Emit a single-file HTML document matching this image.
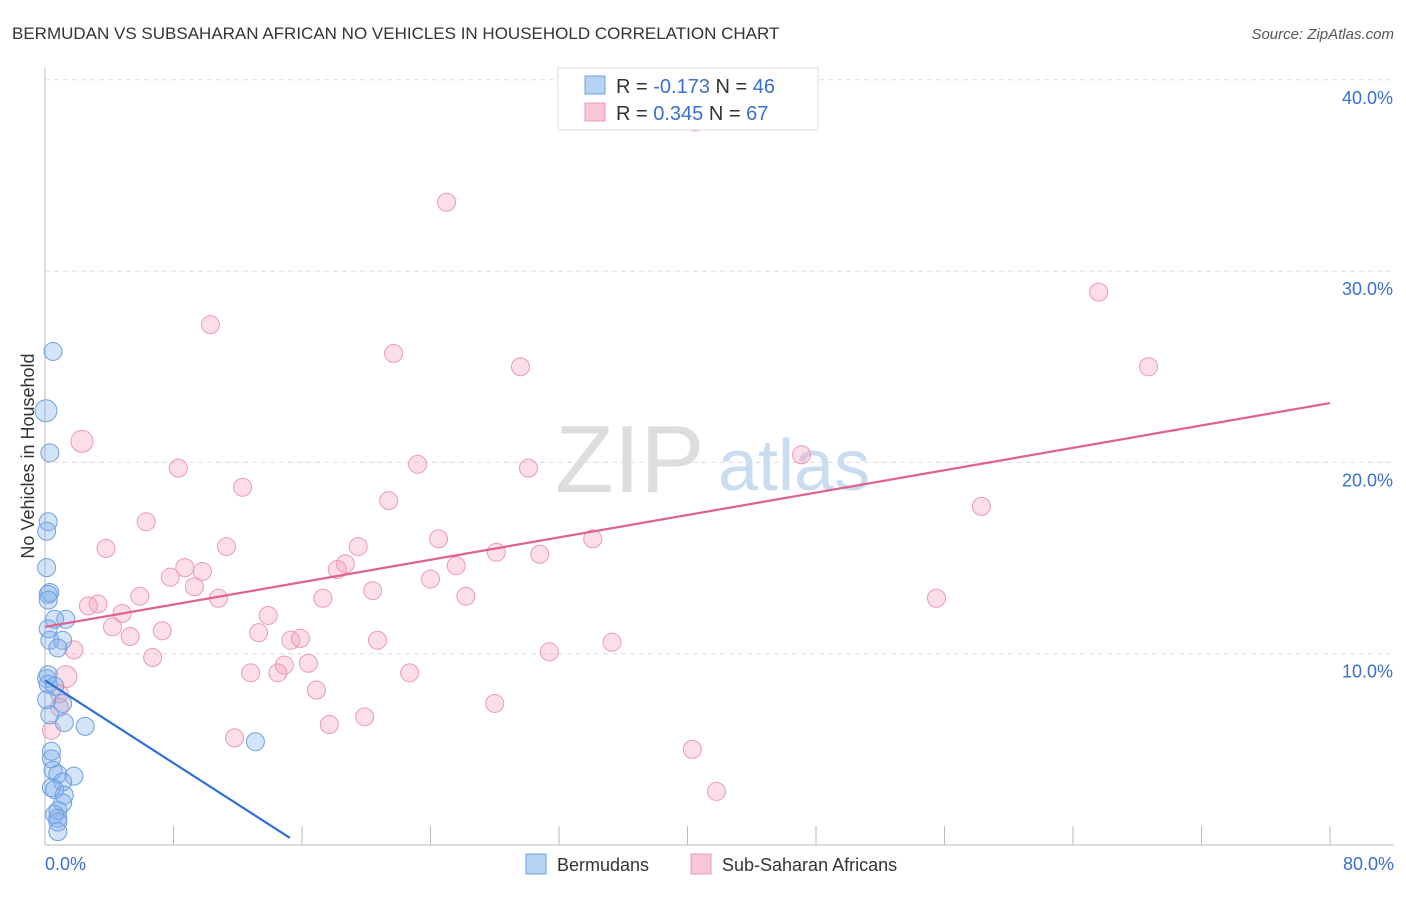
<!DOCTYPE html>
<html><head><meta charset="utf-8"><style>
body{margin:0;background:#fff;font-family:"Liberation Sans",sans-serif}
svg text{font-family:"Liberation Sans",sans-serif}
</style></head><body>
<svg id="c" width="1406" height="892">
<text x="12" y="39" font-size="17" fill="#333">BERMUDAN VS SUBSAHARAN AFRICAN NO VEHICLES IN HOUSEHOLD CORRELATION CHART</text>
<text x="1394" y="39" font-size="15" fill="#555" text-anchor="end" font-style="italic">Source: ZipAtlas.com</text>
<text x="555" y="492" font-size="96" fill="#ddd" font-family="Liberation Serif">ZIP</text>
<text x="718" y="490" font-size="72" fill="#c9dcf0">atlas</text>
<g id="grid"></g><g id="pts"></g><g id="lines"></g>
<text transform="translate(34,456) rotate(-90)" font-size="18" fill="#333" text-anchor="middle">No Vehicles in Household</text>
<g>
<rect x="558" y="68" width="260" height="62" fill="#fff" stroke="#ddd"/>
<rect x="585" y="76" width="20" height="18" fill="#b7d3f4" stroke="#6fa0e0"/>
<rect x="585" y="103" width="20" height="18" fill="#f9c7d6" stroke="#ec9ab4"/>
<text x="616" y="93" font-size="20" fill="#333">R = <tspan fill="#3a6fd0">-0.173</tspan>   N = <tspan fill="#3a6fd0">46</tspan></text>
<text x="616" y="120" font-size="20" fill="#333">R =  <tspan fill="#3a6fd0">0.345</tspan>   N = <tspan fill="#3a6fd0">67</tspan></text>
</g>
<text x="45" y="870" font-size="18" fill="#3a6fd0">0.0%</text>
<text x="1394" y="870" font-size="18" fill="#3a6fd0" text-anchor="end">80.0%</text>
<g>
<rect x="526" y="854" width="20" height="20" fill="#b7d3f4" stroke="#6fa0e0"/>
<text x="557" y="871" font-size="18" fill="#333">Bermudans</text>
<rect x="691" y="854" width="20" height="20" fill="#f9c7d6" stroke="#ec9ab4"/>
<text x="722" y="871" font-size="18" fill="#333">Sub-Saharan Africans</text>
</g>
</svg>
<script>
const yTicks=[10,20,30,40];
const xTicks=[0,8,16,24,32,40,48,56,64,72,80];
const blueX=[0.5,0.06,0.3,0.2,0.1,0.1,0.3,0.2,0.6,1.3,0.2,0.3,1.1,0.8,0.2,0.1,0.2,0.6,1.1,1.2,2.5,13.1,0.4,0.4,0.5,0.8,1.8,1.1,0.4,0.6,1.2,1.1,0.8,0.6,0.8,0.8,0.8,0.2,0.1,0.3];
const blueY=[25.8,22.7,20.5,16.9,16.4,14.5,13.2,13.1,11.8,11.8,11.3,10.7,10.7,10.3,8.9,8.7,8.4,8.3,7.4,6.4,6.2,5.4,4.9,4.5,3.9,3.7,3.6,3.3,3.0,2.9,2.6,2.2,1.8,1.6,1.4,1.2,0.7,12.8,7.6,6.8];
const pinkX=[2.3,40.5,25.0,10.3,21.7,29.6,65.6,68.7,47.1,8.3,23.2,30.1,12.3,21.4,58.3,6.3,3.8,11.3,24.5,34.1,19.5,28.1,30.8,18.7,25.6,18.2,8.7,9.8,7.8,24.0,9.3,26.2,10.8,5.9,20.4,17.3,55.5,2.7,3.3,4.8,4.2,13.9,7.3,13.3,5.3,15.3,15.9,20.7,35.3,1.8,31.4,6.7,16.4,14.9,12.8,14.5,22.7,1.3,16.9,0.9,0.9,28.0,19.9,17.7,0.4,11.8,40.3,41.8];
const pinkY=[21.1,37.8,33.6,27.2,25.7,25.0,28.9,25.0,20.4,19.7,19.9,19.7,18.7,18.0,17.7,16.9,15.5,15.6,16.0,16.0,15.6,15.3,15.2,14.7,14.6,14.4,14.5,14.3,14.0,13.9,13.5,13.0,12.9,13.0,13.3,12.9,12.9,12.5,12.6,12.1,11.4,12.0,11.2,11.1,10.9,10.7,10.8,10.7,10.6,10.2,10.1,9.8,9.5,9.4,9.0,9.0,9.0,8.8,8.1,7.9,7.2,7.4,6.7,6.3,6.0,5.6,5.0,2.8];
const blueTrend=[[0,8.6],[15.25,0.37]];
const pinkTrend=[[0,11.4],[80,23.1]];
const X=v=>45+v/80*1285, Y=v=>845-v*19.13;
const NS="http://www.w3.org/2000/svg";
function mk(t,a,p){const e=document.createElementNS(NS,t);for(const k in a)e.setAttribute(k,a[k]);p.appendChild(e);return e;}
const g=document.getElementById('grid');
const ax=mk('line',{x1:45,y1:68,x2:45,y2:845,stroke:'#bbb'},g);


const bx=mk('line',{x1:45,y1:845,x2:1394,y2:845,stroke:'#bbb'},g);


yTicks.forEach(t=>{
 const l=mk('line',{x1:45,y1:Y(t),x2:1394,y2:Y(t),stroke:'#ddd','stroke-dasharray':'5,4'},g);
 
 
 const tx=mk('text',{x:1393,y:Y(t)+24,'font-size':18,fill:'#3a6fd0','text-anchor':'end'},g);
 tx.textContent=t.toFixed(1)+'%';
 
 
});
xTicks.forEach(t=>{
 const l=mk('line',{x1:X(t),y1:826,x2:X(t),y2:845,stroke:'#bbb'},g);
 
 
});
const p=document.getElementById('pts');
pinkX.forEach((x,i)=>{
 const c=mk('circle',{cx:X(x),cy:Y(pinkY[i]),r:(i==0||i==57)?11:9,fill:'rgba(244,160,185,0.35)',stroke:'#ec9ab4','stroke-width':1},p);
 
 
});
blueX.forEach((x,i)=>{
 const c=mk('circle',{cx:X(x),cy:Y(blueY[i]),r:i==1?11:9,fill:'rgba(130,175,235,0.35)',stroke:'#6fa0e0','stroke-width':1},p);
 
 
});
const L=document.getElementById('lines');
const bl=mk('line',{x1:X(blueTrend[0][0]),y1:Y(blueTrend[0][1]),x2:X(blueTrend[1][0]),y2:Y(blueTrend[1][1]),stroke:'#2f6fd6','stroke-width':2.2},L);


const pl=mk('line',{x1:X(pinkTrend[0][0]),y1:Y(pinkTrend[0][1]),x2:X(pinkTrend[1][0]),y2:Y(pinkTrend[1][1]),stroke:'#e0608e','stroke-width':2.2},L);


</script>
</body></html>
